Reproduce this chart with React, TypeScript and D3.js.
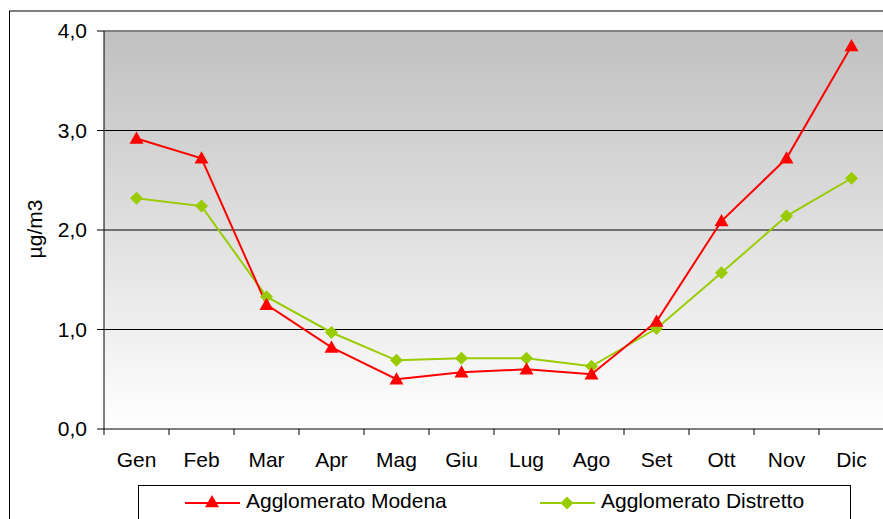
import React from "react";
import * as d3 from "d3";

const months = ["Gen", "Feb", "Mar", "Apr", "Mag", "Giu", "Lug", "Ago", "Set", "Ott", "Nov", "Dic"];
const modena = [2.92, 2.72, 1.25, 0.82, 0.5, 0.57, 0.6, 0.55, 1.08, 2.09, 2.72, 3.85];
const distretto = [2.32, 2.24, 1.33, 0.97, 0.69, 0.71, 0.71, 0.63, 1.01, 1.57, 2.14, 2.52];
const yTicks = [0, 1, 2, 3, 4];
const seriesNames = ["Agglomerato Modena", "Agglomerato Distretto"];

const W = 883, H = 519;
const left = 104, right = 884, top = 31, bottom = 429;

export default function App() {
  const x = d3.scaleBand<string>().domain(months).range([left, right]);
  const y = d3.scaleLinear().domain([0, 4]).range([bottom, top]);
  const cx = (m: string) => (x(m) as number) + x.bandwidth() / 2;
  const line = d3.line<[string, number]>().x(d => cx(d[0])).y(d => y(d[1]));
  const mData = months.map((m, i) => [m, modena[i]] as [string, number]);
  const dData = months.map((m, i) => [m, distretto[i]] as [string, number]);
  const tri = (px: number, py: number, s = 7) => `M${px},${py - s}L${px + s},${py + s * 0.75}L${px - s},${py + s * 0.75}Z`;
  const dia = (px: number, py: number, s = 6.5) => `M${px},${py - s}L${px + s},${py}L${px},${py + s}L${px - s},${py}Z`;
  const font = "'Liberation Sans', Arial, sans-serif";
  const tickEdges = months.map(m => x(m) as number).concat([right]);
  return (
    <svg width={W} height={H} style={{ position: "absolute", left: 0, top: 0 }} fontFamily={font}>
      <defs>
        <linearGradient id="bg" x1="0" y1="0" x2="0" y2="1">
          <stop offset="0" stopColor="#c0c0c0" />
          <stop offset="1" stopColor="#ffffff" />
        </linearGradient>
      </defs>
      <rect x={0} y={0} width={W} height={H} fill="#fff" />
      <rect x={9.5} y={11} width={W + 20} height={H + 20} fill="#fff" stroke="#000" strokeWidth={1} />
      <rect x={left} y={top} width={right - left} height={bottom - top} fill="url(#bg)" />
      {yTicks.filter(t => t > 0 && t < 4).map(t => (
        <line key={t} x1={left} x2={right} y1={y(t)} y2={y(t)} stroke="#000" strokeWidth={1} />
      ))}
      <line x1={left} x2={right} y1={top} y2={top} stroke="#808080" strokeWidth={2} />
      <line x1={right} x2={right} y1={top} y2={bottom} stroke="#808080" strokeWidth={2} />
      <line x1={left} x2={left} y1={top} y2={bottom} stroke="#000" strokeWidth={1} />
      <line x1={left} x2={right} y1={bottom} y2={bottom} stroke="#000" strokeWidth={1} />
      {yTicks.map(t => (
        <g key={t}>
          <line x1={left - 7} x2={left} y1={y(t)} y2={y(t)} stroke="#000" />
          <text x={87} y={y(t) + 7} textAnchor="end" fontSize={21} fill="#000">
            {d3.format(".1f")(t).replace(".", ",")}
          </text>
        </g>
      ))}
      {tickEdges.map((t, i) => (
        <line key={i} x1={t} x2={t} y1={bottom} y2={bottom + 6} stroke="#000" />
      ))}
      {months.map(m => (
        <text key={m} x={cx(m)} y={bottom + 38} textAnchor="middle" fontSize={21} fill="#000">{m}</text>
      ))}
      <text transform={`translate(42,229) rotate(-90)`} textAnchor="middle" fontSize={21} fill="#000">µg/m3</text>
      <path d={line(dData) || ""} fill="none" stroke="#99cc00" strokeWidth={2} />
      <path d={line(mData) || ""} fill="none" stroke="#ff0000" strokeWidth={2} />
      {dData.map(d => <path key={"d" + d[0]} d={dia(cx(d[0]), y(d[1]))} fill="#99cc00" />)}
      {mData.map(d => <path key={"m" + d[0]} d={tri(cx(d[0]), y(d[1]))} fill="#ff0000" />)}
      <rect x={138.5} y={485.5} width={712} height={50} fill="#fff" stroke="#000" />
      <line x1={185} x2={240} y1={503} y2={503} stroke="#ff0000" strokeWidth={2} />
      <path d={tri(212, 502)} fill="#ff0000" />
      <text x={246} y={508} fontSize={21} fill="#000">{seriesNames[0]}</text>
      <line x1={540} x2={595} y1={503} y2={503} stroke="#99cc00" strokeWidth={2} />
      <path d={dia(567, 503)} fill="#99cc00" />
      <text x={601} y={508} fontSize={21} fill="#000">{seriesNames[1]}</text>
    </svg>
  );
}
